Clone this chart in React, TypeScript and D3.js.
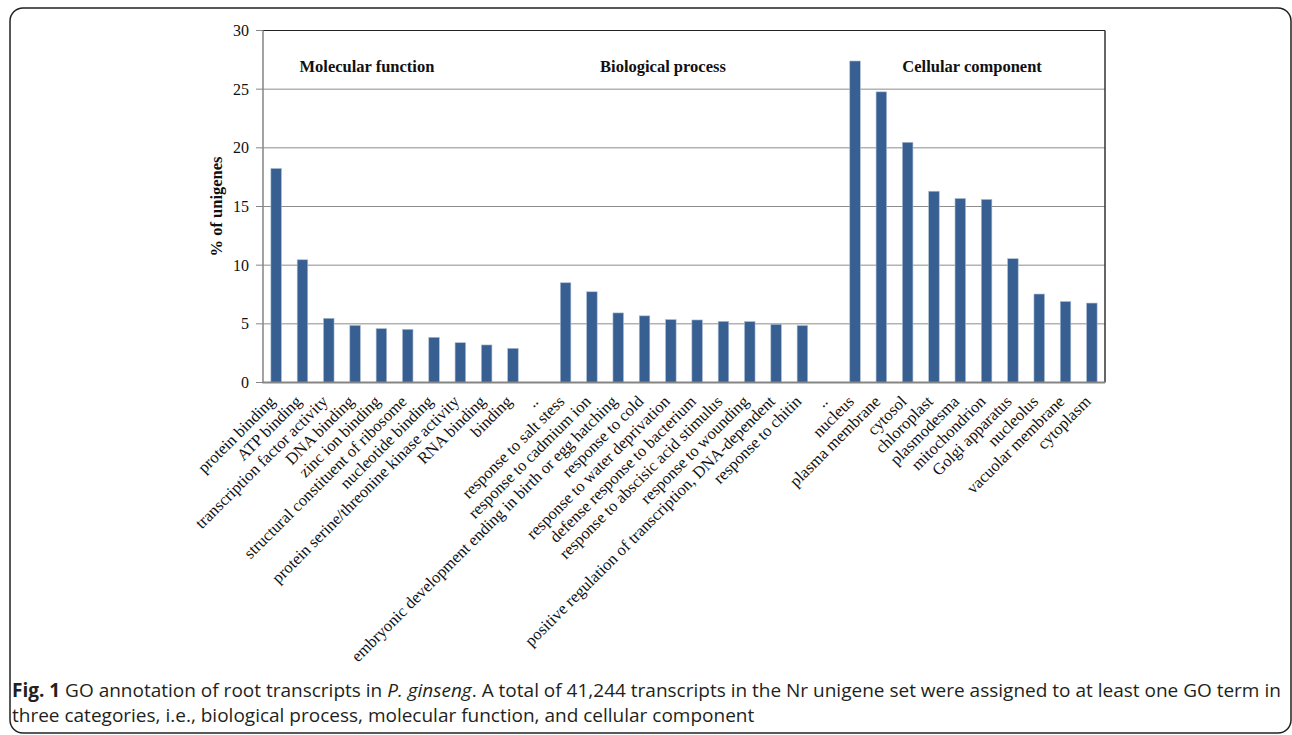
import * as d3 from 'd3'

const mfLabels = [
  'protein binding', 'ATP binding', 'transcription factor activity', 'DNA binding',
  'zinc ion binding', 'structural constituent of ribosome', 'nucleotide binding',
  'protein serine/threonine kinase activity', 'RNA binding', 'binding',
]
const mfValues = [18.24, 10.46, 5.47, 4.87, 4.59, 4.53, 3.85, 3.39, 3.2, 2.91]

const bpLabels = [
  'response to salt stess', 'response to cadmium ion',
  'embryonic development ending in birth or egg hatching', 'response to cold',
  'response to water deprivation', 'defense response to bacterium',
  'response to abscisic acid stimulus', 'response to wounding',
  'positive regulation of transcription, DNA-dependent', 'response to chitin',
]
const bpValues = [8.5, 7.73, 5.93, 5.68, 5.36, 5.33, 5.21, 5.19, 4.96, 4.85]

const ccLabels = [
  'nucleus', 'plasma membrane', 'cytosol', 'chloroplast', 'plasmodesma',
  'mitochondrion', 'Golgi apparatus', 'nucleolus', 'vacuolar membrane', 'cytoplasm',
]
const ccValues = [27.4, 24.77, 20.47, 16.3, 15.68, 15.6, 10.55, 7.54, 6.9, 6.77]

const sectionTitles = ['Molecular function', 'Biological process', 'Cellular component']
const yTicks = [0, 5, 10, 15, 20, 25, 30]

const W = 1292
const H = 735
const plot = { left: 263, right: 1105, top: 30.5, bottom: 382.5 }

const serif = '"Liberation Serif", "Times New Roman", serif'
const sans = '"Open Sans", "Noto Sans", sans-serif'

type Item = { key: string; label: string; value: number | null }

const items: Item[] = [
  ...mfLabels.map((l, i) => ({ key: 'mf' + i, label: l, value: mfValues[i] })),
  { key: 'gap1', label: '..', value: null },
  ...bpLabels.map((l, i) => ({ key: 'bp' + i, label: l, value: bpValues[i] })),
  { key: 'gap2', label: '..', value: null },
  ...ccLabels.map((l, i) => ({ key: 'cc' + i, label: l, value: ccValues[i] })),
]

export default function App() {
  const x = d3.scaleBand<string>()
    .domain(items.map(d => d.key))
    .range([plot.left, plot.right])
    .paddingInner(0.6)
    .paddingOuter(0.3)
  const y = d3.scaleLinear().domain([0, 30]).range([plot.bottom, plot.top])
  const step = x.step()
  const bw = x.bandwidth()

  // section title centers, in slot units from each group's first bar
  const titleX = [
    x('mf0')! + bw / 2 + step * 3.45,
    x('bp0')! + bw / 2 + step * 3.7,
    x('cc0')! + bw / 2 + step * 4.45,
  ]

  return (
    <svg width={W} height={H} style={{ position: 'absolute', left: 0, top: 0, background: '#fff' }}>
      <rect x={10} y={8} width={1281} height={725} rx={13} fill="none" stroke="#222" strokeWidth={1.5} />

      {yTicks.slice(1, -1).map(t => (
        <line key={'g' + t} x1={plot.left} x2={plot.right} y1={y(t)} y2={y(t)} stroke="#8c8c8c" strokeWidth={1} />
      ))}

      {/* frame: top / right dark, left / bottom gray */}
      <line x1={plot.left} x2={plot.right} y1={plot.top} y2={plot.top} stroke="#222" strokeWidth={1.2} />
      <line x1={plot.right} x2={plot.right} y1={plot.top} y2={plot.bottom} stroke="#333" strokeWidth={1.5} />

      {items.filter(d => d.value !== null).map(d => (
        <rect key={d.key} x={x(d.key)!} y={y(d.value!)} width={bw} height={plot.bottom - y(d.value!)}
          fill="#375f91" stroke="#a9bbd3" strokeWidth={0.6} />
      ))}

      <line x1={plot.left} x2={plot.left} y1={plot.top} y2={plot.bottom} stroke="#858585" strokeWidth={1.5} />
      <line x1={plot.left - 0.75} x2={plot.right} y1={plot.bottom} y2={plot.bottom} stroke="#858585" strokeWidth={2} />

      {yTicks.map(t => (
        <g key={'t' + t}>
          <line x1={plot.left - 7} x2={plot.left} y1={y(t)} y2={y(t)} stroke="#858585" strokeWidth={1} />
          <text x={plot.left - 14} y={y(t)} dy="0.35em" textAnchor="end" fontFamily={serif} fontSize={16} fill="#111">{t}</text>
        </g>
      ))}

      <text transform={`translate(222,${(plot.top + plot.bottom) / 2}) rotate(-90)`} textAnchor="middle"
        fontFamily={serif} fontWeight="bold" fontSize={16.5} fill="#111">% of unigenes</text>

      {sectionTitles.map((s, i) => (
        <text key={s} x={titleX[i]} y={72} textAnchor="middle" fontFamily={serif} fontWeight="bold" fontSize={16.5} fill="#111">{s}</text>
      ))}

      {items.map(d => {
        const cx = x(d.key)! + bw / 2
        const cy = plot.bottom + 20
        return (
          <text key={'l' + d.key} transform={`translate(${cx},${cy}) rotate(-45)`} textAnchor="end"
            fontFamily={serif} fontSize={16.5} fill="#111">{d.label}</text>
        )
      })}

      <text x={12} y={697} fontFamily={sans} fontSize={19} fill="#231f20">
        <tspan fontWeight="bold">Fig. 1</tspan> GO annotation of root transcripts in <tspan fontStyle="italic">P. ginseng</tspan>. A total of 41,244 transcripts in the Nr unigene set were assigned to at least one GO term in
      </text>
      <text x={12} y={722} fontFamily={sans} fontSize={19} fill="#231f20">
        three categories, i.e., biological process, molecular function, and cellular component
      </text>
    </svg>
  )
}
